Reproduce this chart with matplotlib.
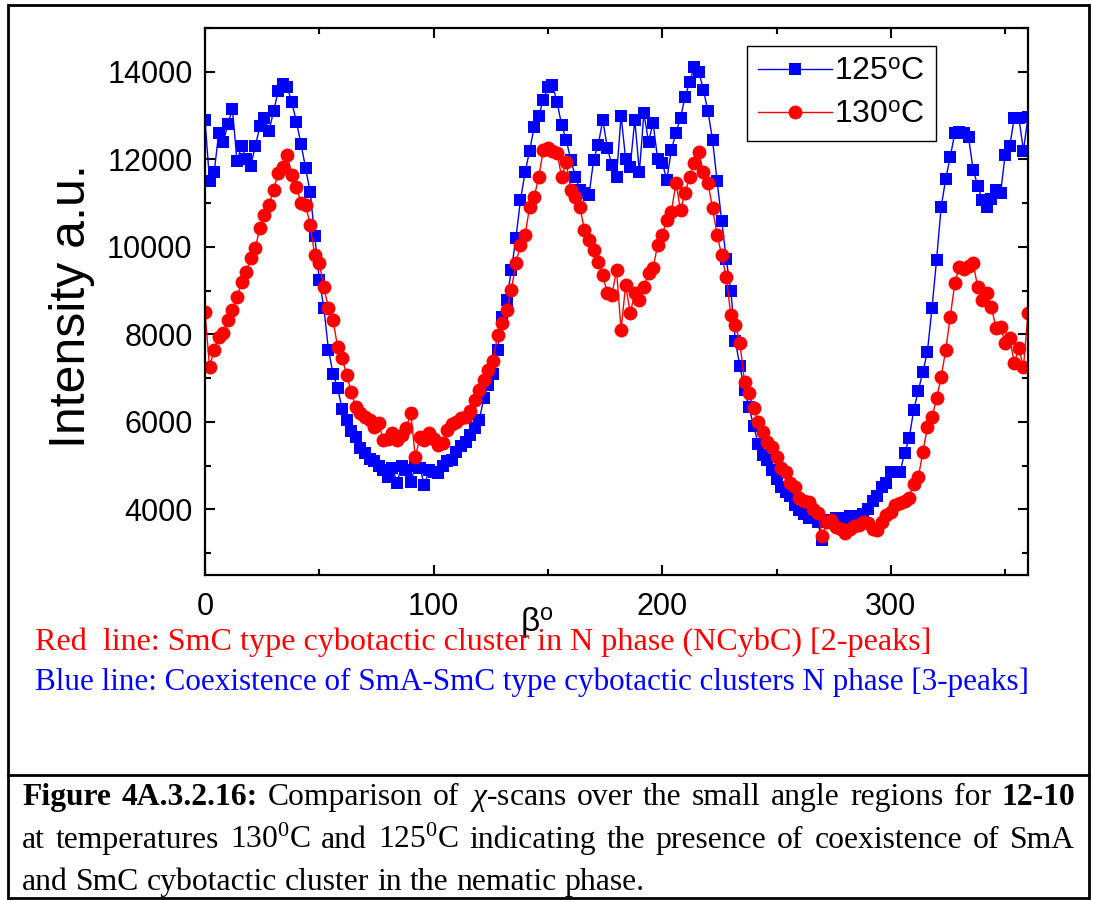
import matplotlib
matplotlib.use("Agg")
import matplotlib.pyplot as plt
from matplotlib.lines import Line2D
from matplotlib.patches import Rectangle
from matplotlib.ticker import MultipleLocator

plt.rcParams['font.family'] = ['Liberation Sans', 'DejaVu Sans']
plt.rcParams['mathtext.fontset'] = 'custom'
plt.rcParams['mathtext.rm'] = 'Liberation Serif'
plt.rcParams['mathtext.it'] = 'Liberation Serif:italic'
plt.rcParams['mathtext.sf'] = 'Liberation Sans'

# chi-scan angle, 2 degree steps
beta = list(range(0, 362, 2))

# 125 C, blue squares
i_125 = [12900, 11500, 11700, 12600, 12400, 12800, 13150, 11950, 12300, 12000,
         11850, 12300, 12750, 12950, 12650, 13100, 13550, 13720, 13650, 13300,
         12850, 12350, 11800, 11250, 10250, 9250, 8600, 7650, 7100, 6770,
         6300, 6050, 5800, 5650, 5400, 5280, 5150, 5100, 5000, 4900,
         4750, 4950, 4600, 5000, 4900, 4620, 5000, 4950, 4550, 4900,
         4850, 4820, 5000, 5100, 5120, 5300, 5450, 5550, 5700, 5850,
         6050, 6550, 6850, 7100, 7650, 8400, 8780, 9470, 10200, 11070,
         11700, 12200, 12740, 13000, 13360, 13650, 13700, 13300, 12790, 12440,
         11990, 11600, 11300, 11230, 11190, 11990, 12330, 12900, 12260, 11870,
         11600, 13000, 12000, 11830, 12900, 11710, 13060, 12400, 12830, 12000,
         11920, 11530, 12215, 12600, 12950, 13430, 13770, 14110, 14000, 13590,
         13100, 12450, 11500, 10600, 9720, 9000, 7840, 7270, 6720, 6330,
         5900, 5500, 5250, 5120, 4900, 4700, 4500, 4400, 4300, 4100,
         3980, 3900, 3800, 3850, 3700, 3300, 3750, 3700, 3800, 3750,
         3800, 3850, 3850, 3850, 3900, 4000, 4200, 4300, 4500, 4600,
         4850, 4850, 4850, 5280, 5620, 6270, 6700, 7140, 7600, 8600,
         9700, 10900, 11550, 12060, 12600, 12630, 12600, 12500, 11760, 11400,
         11070, 10900, 11100, 11300, 11230, 12100, 12300, 12950, 12950, 12200,
         12970]

# 130 C, red circles
i_130 = [8500, 7250, 7640, 7940, 8030, 8330, 8550, 8850, 9190, 9420,
         9740, 9970, 10430, 10730, 10960, 11300, 11690, 11830, 12100, 11640,
         11370, 11000, 10960, 10500, 9810, 9630, 9080, 8600, 8330, 7710,
         7450, 7070, 6680, 6330, 6200, 6100, 6040, 5880, 5970, 5580,
         5600, 5740, 5580, 5700, 5850, 6200, 5190, 5650, 5580, 5740,
         5600, 5460, 5510, 5810, 5950, 5990, 6080, 6100, 6250, 6500,
         6720, 6950, 7180, 7400, 7980, 8260, 8550, 9010, 9630, 10040,
         10270, 10910, 11140, 11600, 12210, 12260, 12200, 12150, 11600, 11940,
         11300, 11140, 10910, 10380, 10160, 9930, 9650, 9350, 8940, 8900,
         9470, 8100, 9130, 8480, 8940, 8780, 9080, 9400, 9510, 10040,
         10270, 10610, 10800, 11460, 10840, 11230, 11600, 11920, 12170, 11710,
         11460, 10890, 10270, 9810, 9310, 8440, 8210, 7800, 6910, 6650,
         6310, 5990, 5760, 5530, 5420, 5190, 4950, 4850, 4600, 4500,
         4270, 4200, 4160, 4000, 3910, 3400, 3700, 3750, 3600, 3550,
         3470, 3550, 3630, 3650, 3700, 3680, 3560, 3520, 3700, 3860,
         3950, 4090, 4150, 4200, 4270, 4590, 4730, 5300, 5880, 6100,
         6540, 7020, 7640, 8400, 9170, 9540, 9500, 9560, 9630, 9080,
         8780, 8940, 8620, 8140, 8170, 7800, 7910, 7340, 7680, 7250,
         8480]

W, H = 1093, 900
fig = plt.figure(figsize=(W / 100, H / 100), dpi=100)


def fx(px):
    return px / W


def fy(py):
    return 1 - py / H


ax_l, ax_r, ax_t, ax_b = 205, 1028, 28, 575
ax = fig.add_axes([fx(ax_l), fy(ax_b), fx(ax_r) - fx(ax_l), fy(ax_t) - fy(ax_b)])
ax.plot(beta, i_125, color='#0000ff', lw=1, marker='s', ms=9, mew=0,
        label='125$^{\\mathsf{o}}$C')
ax.plot(beta, i_130, color='#ff0000', lw=1, marker='o', ms=10, mew=0,
        label='130$^{\\mathsf{o}}$C')
ax.set_xlim(0, 360)
ax.set_ylim(2500, 15000)
ax.xaxis.set_major_locator(MultipleLocator(100))
ax.xaxis.set_minor_locator(MultipleLocator(50))
ax.yaxis.set_major_locator(MultipleLocator(2000))
ax.yaxis.set_minor_locator(MultipleLocator(1000))
ax.tick_params(which='both', direction='in', top=True, right=True,
               width=1.5, labelsize=22)
ax.tick_params(which='major', length=7)
ax.tick_params(which='minor', length=4)
ax.tick_params(axis='x', pad=12)
ax.tick_params(axis='y', pad=9)
for s in ax.spines.values():
    s.set_linewidth(1.6)

leg_x = (936 - ax_l) / (ax_r - ax_l)
leg_y = 1 - (46 - ax_t) / (ax_b - ax_t)
leg = ax.legend(loc='upper right', bbox_to_anchor=(leg_x, leg_y),
                bbox_transform=ax.transAxes, fontsize=23, numpoints=1,
                fancybox=False, framealpha=1, edgecolor='black',
                handlelength=2.3, handletextpad=0.08, borderpad=0.35,
                labelspacing=0.4, borderaxespad=0)
leg.get_frame().set_linewidth(1)

fig.text(fx(72), fy(306), 'Intensity a.u.', rotation=90, ha='center',
         va='center', fontsize=36)
fig.text(fx(520), fy(632), 'β$^{\\mathsf{o}}$', fontsize=24, ha='left',
         va='baseline')

serif = 'Liberation Serif'
fig.text(fx(35), fy(650), 'Red  line: SmC type cybotactic cluster in N phase (NCybC) [2-peaks]',
         color='#ff0000', fontsize=23.1, family=serif, va='baseline')
fig.text(fx(35), fy(690), 'Blue line: Coexistence of SmA-SmC type cybotactic clusters N phase [3-peaks]',
         color='#0000ff', fontsize=22.4, family=serif, va='baseline')

# outer frame and caption separator
fig.add_artist(Rectangle((fx(8), fy(898)), fx(1089) - fx(8), fy(5) - fy(898),
                         transform=fig.transFigure, fill=False, lw=2, ec='black'))
fig.add_artist(Line2D([fx(8), fx(1089)], [fy(775), fy(775)],
                      transform=fig.transFigure, color='black', lw=2))

# caption, justified word by word
cap_size = 22.8
cap_lines = [
    [('Figure', 'bold'), ('4A.3.2.16:', 'bold'), ('Comparison', 'normal'), ('of', 'normal'),
     ('$\\chi$-scans', 'normal'), ('over', 'normal'), ('the', 'normal'), ('small', 'normal'),
     ('angle', 'normal'), ('regions', 'normal'), ('for', 'normal'), ('12-10', 'bold')],
    [('at', 'normal'), ('temperatures', 'normal'), ('130$^{\\mathrm{0}}$C', 'normal'),
     ('and', 'normal'), ('125$^{\\mathrm{0}}$C', 'normal'), ('indicating', 'normal'),
     ('the', 'normal'), ('presence', 'normal'), ('of', 'normal'), ('coexistence', 'normal'),
     ('of', 'normal'), ('SmA', 'normal')],
    [('and', 'normal'), ('SmC', 'normal'), ('cybotactic', 'normal'), ('cluster', 'normal'),
     ('in', 'normal'), ('the', 'normal'), ('nematic', 'normal'), ('phase.', 'normal')],
]
cap_base = [805, 848, 890]
cap_just = [True, True, False]
x0, x1 = 22, 1075

renderer = fig.canvas.get_renderer()
for words, yb, just in zip(cap_lines, cap_base, cap_just):
    items = []
    for txt, wt in words:
        t = fig.text(0, fy(yb), txt, fontsize=cap_size, family=serif,
                     weight=wt, va='baseline', ha='left')
        items.append((t, t.get_window_extent(renderer).width))
    total = sum(w for _, w in items)
    if just:
        gap = (x1 - x0 - total) / (len(items) - 1)
    else:
        gap = cap_size * 100 / 72 * 0.25
    x = x0
    for t, w in items:
        t.set_x(fx(x))
        x += w + gap

fig.savefig('out.png', dpi=100)
